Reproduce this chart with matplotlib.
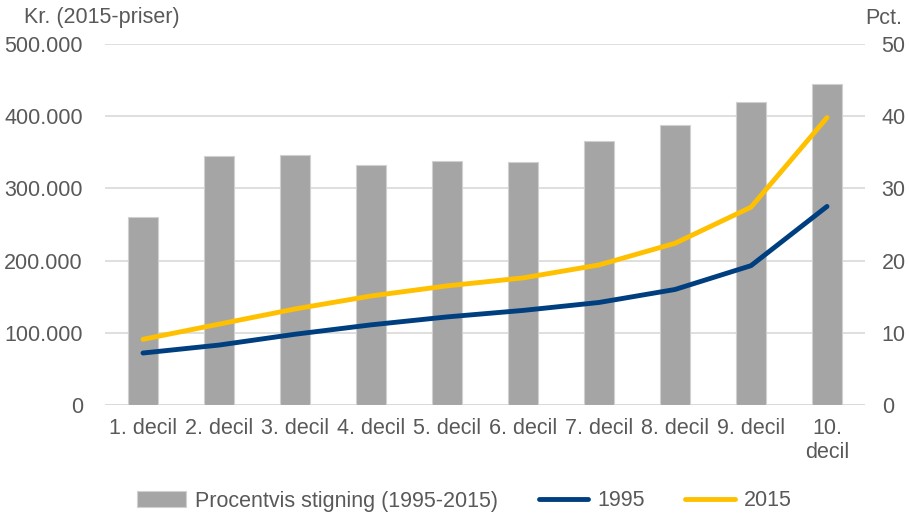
import numpy as np
import matplotlib.pyplot as plt
from matplotlib.ticker import FuncFormatter

plt.rcParams['font.family'] = ['Liberation Sans', 'DejaVu Sans']

#%% data
deciler = ['1. decil', '2. decil', '3. decil', '4. decil', '5. decil',
           '6. decil', '7. decil', '8. decil', '9. decil', '10.\ndecil']
stigning = [26.1, 34.5, 34.6, 33.2, 33.8, 33.7, 36.5, 38.8, 41.9, 44.5]
indk_1995 = [72000, 83000, 98000, 111000, 122000, 131000, 142000, 160000, 193000, 275000]
indk_2015 = [91000, 112000, 133000, 151000, 165000, 176000, 194000, 224000, 274000, 398000]

#%% figur
grå = '#595959'
fs = 15.5
fig = plt.figure(figsize=(9.09, 5.15), dpi=100)
ax2 = fig.add_axes([105/909, 1-405/515, 760/909, 361/515])  # pct (barer)
ax = ax2.twinx()                                             # kroner (linjer)

x = np.arange(len(deciler))
ax2.bar(x, stigning, width=0.4, color='#A5A5A5', edgecolor='#D0D0D0', linewidth=0.8,
        label='Procentvis stigning (1995-2015)', zorder=2)
ax.plot(x, indk_1995, color='#003F7F', lw=3.5, solid_capstyle='round', label='1995', zorder=3)
ax.plot(x, indk_2015, color='#FFC000', lw=3.5, solid_capstyle='round', label='2015', zorder=3)

# kroner til venstre, pct til højre
ax.yaxis.tick_left()
ax2.yaxis.tick_right()
ax.set_ylim(0, 500000)
ax2.set_ylim(0, 50)
ax.set_yticks(np.arange(0, 500001, 100000))
ax2.set_yticks(np.arange(0, 51, 10))
ax.yaxis.set_major_formatter(FuncFormatter(lambda v, p: '0' if v == 0 else f'{int(v):,}'.replace(',', '.')))
ax2.set_xlim(-0.5, len(deciler) - 0.5)
ax2.set_xticks(x)
ax2.set_xticklabels(deciler)

ax2.grid(axis='y', color='#D9D9D9', lw=1.2, zorder=0)
for a in (ax, ax2):
    for s in a.spines.values():
        s.set_visible(False)
    a.tick_params(length=0, labelsize=fs, labelcolor=grå)
ax.tick_params(axis='y', pad=16)
ax2.tick_params(axis='y', pad=12)
ax2.tick_params(axis='x', pad=9)
ax2.axhline(0, color='#D9D9D9', lw=1.2, zorder=1)

fig.text(24/909, 1-18/515, 'Kr. (2015-priser)', fontsize=fs, color=grå, va='center')
fig.text(902/909, 1-18/515, 'Pct.', fontsize=fs, color=grå, va='center', ha='right')

h1, l1 = ax2.get_legend_handles_labels()
h2, l2 = ax.get_legend_handles_labels()
fig.legend(h1 + h2, l1 + l2, loc='center', bbox_to_anchor=(464/909, 1-501/515), ncol=3,
           frameon=False, fontsize=fs, labelcolor=grå, handlelength=2.3,
           handletextpad=0.4, columnspacing=1.9)

fig.savefig('out.png', dpi=100)
